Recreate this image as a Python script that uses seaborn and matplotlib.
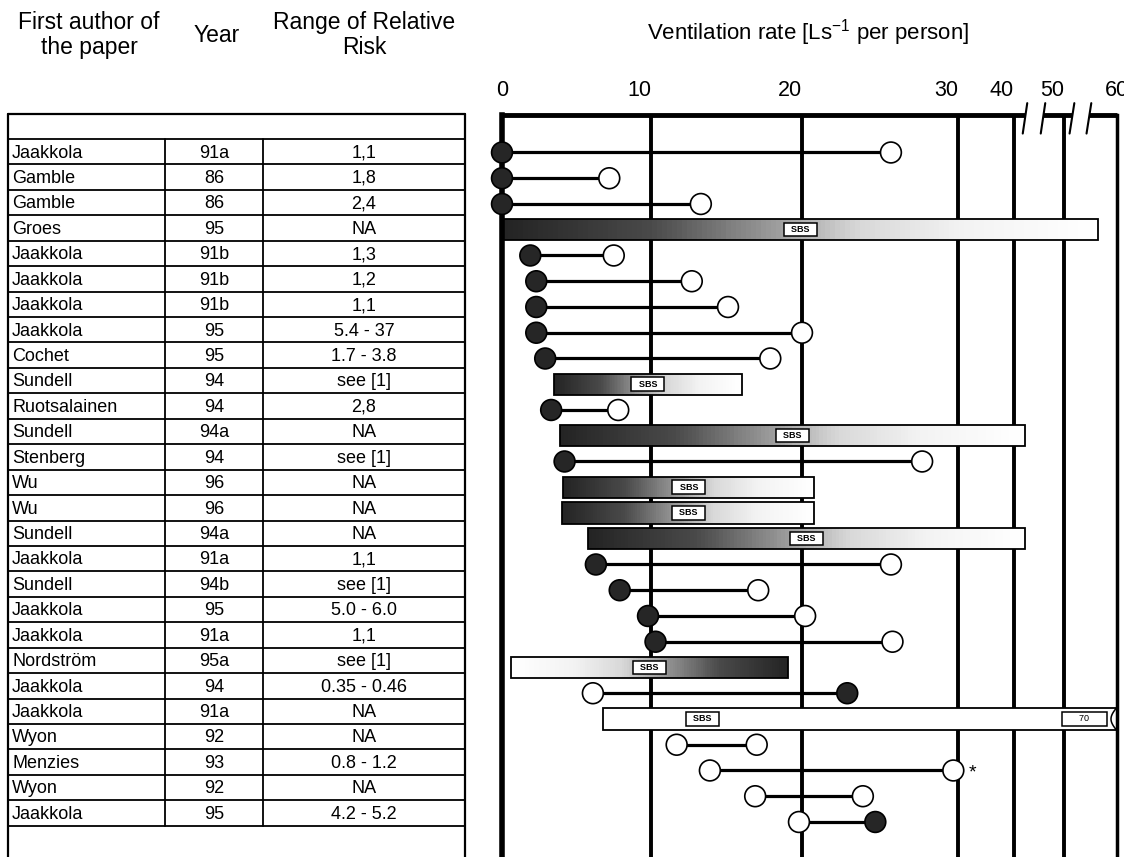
import matplotlib
matplotlib.use("Agg")
import matplotlib.pyplot as plt
from matplotlib.colors import LinearSegmentedColormap
from matplotlib.patches import Rectangle
import numpy as np
import pandas as pd
import seaborn as sns

# --table columns
authors = ["Jaakkola", "Gamble", "Gamble", "Groes", "Jaakkola", "Jaakkola", "Jaakkola",
           "Jaakkola", "Cochet", "Sundell", "Ruotsalainen", "Sundell", "Stenberg", "Wu",
           "Wu", "Sundell", "Jaakkola", "Sundell", "Jaakkola", "Jaakkola", "Nordström",
           "Jaakkola", "Jaakkola", "Wyon", "Menzies", "Wyon", "Jaakkola"]
years = ["91a", "86", "86", "95", "91b", "91b", "91b", "95", "95", "94", "94", "94a", "94",
         "96", "96", "94a", "91a", "94b", "95", "91a", "95a", "94", "91a", "92", "93", "92", "95"]
rel_risk = ["1,1", "1,8", "2,4", "NA", "1,3", "1,2", "1,1", "5.4 - 37", "1.7 - 3.8", "see [1]",
            "2,8", "NA", "see [1]", "NA", "NA", "NA", "1,1", "see [1]", "5.0 - 6.0", "1,1",
            "see [1]", "0.35 - 0.46", "NA", "NA", "0.8 - 1.2", "NA", "4.2 - 5.2"]

# --ventilation rates [L/s per person]
kind = ["pair", "pair", "pair", "bar", "pair", "pair", "pair", "pair", "pair", "bar", "pair",
        "bar", "pair", "bar", "bar", "bar", "pair", "pair", "pair", "pair", "bar", "pair",
        "bar", "pair", "pair", "pair", "pair"]
low = [0, 0, 0, 0.1, 1.9, 2.3, 2.3, 2.3, 2.9, 3.5, 3.3, 3.9, 4.2, 4.1, 4.0, 5.8, 6.3, 7.9,
       9.8, 10.3, 0.6, 6.1, 6.8, 11.7, 13.9, 16.9, 19.8]
high = [25.7, 7.2, 13.3, 56.4, 7.5, 12.7, 15.1, 20.0, 17.9, 16.0, 7.8, 42.1, 27.7, 20.8, 20.8,
        42.1, 25.7, 17.1, 20.2, 25.8, 19.1, 22.9, 70, 17.0, 29.7, 23.9, 24.7]
low_mark = ["filled"] * 21 + ["open"] * 6
high_mark = ["open"] * 21 + ["filled", "open", "open", "open", "open", "filled"]
shade = ["", "", "", "dark_left", "", "", "", "", "", "dark_left", "", "dark_left", "",
         "dark_left", "dark_left", "dark_left", "", "", "", "", "dark_right", "", "none",
         "", "", "", ""]
starred = [24]

tick_values = [0, 10, 20, 30, 40, 50, 60]
grid_values = [10, 20, 30, 40, 50]
axis_breaks = [(42.2, 45.8), (51.5, 54.7)]

# piecewise axis (original figure is not linear above 30)
SCALE_VALUES = [-10, 0, 10, 20, 30, 40, 50, 60, 80]
SCALE_POS = [-149, 0, 149, 300, 456, 512, 562, 615, 721]


def fwd(v):
    return np.interp(v, SCALE_VALUES, SCALE_POS)


def inv(u):
    return np.interp(u, SCALE_POS, SCALE_VALUES)


sns.set_theme(style="white")
plt.rcParams["font.family"] = ["Liberation Sans", "DejaVu Sans"]
plt.rcParams["mathtext.fontset"] = "custom"
plt.rcParams["mathtext.rm"] = "Liberation Sans"
plt.rcParams["text.color"] = "black"
plt.rcParams["xtick.color"] = "black"

W, H = 1124, 857
fig = plt.figure(figsize=(W / 100, H / 100), dpi=100)

n_rows = len(authors)
rows = np.arange(n_rows)

# ---------------- table
ax_t = fig.add_axes([8 / W, 0, 457 / W, 743 / H])
ax_t.set_xlim(0, 1)
ax_t.set_ylim(27.73, -1.484)
ax_t.axis("off")
c1, c2 = 157 / 457, 255 / 457
for k in range(n_rows + 1):
    ax_t.plot([0, 1], [k - 0.5, k - 0.5], color="black", lw=1.3)
for c in (c1, c2):
    ax_t.plot([c, c], [-0.5, n_rows - 0.5], color="black", lw=1.3)
for x in (0, 1):
    ax_t.plot([x, x], [0, 1], transform=ax_t.transAxes, color="black", lw=1.6, clip_on=False)
ax_t.plot([0, 1], [1, 1], transform=ax_t.transAxes, color="black", lw=1.6, clip_on=False)
for i in rows:
    ax_t.text(0.009, i + 0.05, authors[i], ha="left", va="center", fontsize=13)
    ax_t.text((c1 + c2) / 2, i + 0.05, years[i], ha="center", va="center", fontsize=13)
    ax_t.text((c2 + 1) / 2, i + 0.05, rel_risk[i], ha="center", va="center", fontsize=13)

fig.text(89 / W, 1 - 35 / H, "First author of\nthe paper", ha="center", va="center",
         fontsize=16.5, linespacing=1.15)
fig.text(217 / W, 1 - 35 / H, "Year", ha="center", va="center", fontsize=16.5)
fig.text(364 / W, 1 - 35 / H, "Range of Relative\nRisk", ha="center", va="center",
         fontsize=16.5, linespacing=1.15)
fig.text(808 / W, 1 - 33 / H, "Ventilation rate [Ls$^{-1}$ per person]", ha="center",
         va="center", fontsize=16)

# ---------------- chart
ax = fig.add_axes([502 / W, 0, 615 / W, 742 / H])
ax.set_xscale("function", functions=(fwd, inv))

for v in grid_values:
    ax.axvline(v, color="black", lw=2.8, zorder=1)

cmap = LinearSegmentedColormap.from_list(
    "shade", [(0, "#232323"), (0.25, "#4a4a4a"), (0.48, "#a5a5a5"), (0.6, "#d8d8d8"),
              (0.78, "#f3f3f3"), (1, "#ffffff")])
bar_h = 0.82
n_seg = 120
for i in rows:
    if kind[i] != "bar":
        continue
    a, b = low[i], high[i]
    y0 = i - bar_h / 2
    if shade[i] == "none":
        ax.add_patch(Rectangle((a, y0), b - a, bar_h, fc="white", ec="black", lw=1.3, zorder=2))
    else:
        edges = inv(np.linspace(fwd(a), fwd(b), n_seg + 1))
        for j in range(n_seg):
            t = (j + 0.5) / n_seg
            if shade[i] == "dark_right":
                t = 1 - t
            ax.add_patch(Rectangle((edges[j], y0), edges[j + 1] - edges[j], bar_h,
                                   fc=cmap(t), lw=0, antialiased=False, zorder=2))
        ax.add_patch(Rectangle((a, y0), b - a, bar_h, fc="none", ec="black", lw=1.3, zorder=2.2))
    if b > tick_values[-1]:
        # truncated bar: label near its start, value box and break mark at the border
        x_lab = inv((fwd(a) + fwd(20)) / 2)
        ax.annotate(f"      {b:g}      ", xy=(tick_values[-1], i), xytext=(-9, 0),
                    textcoords="offset points", ha="right", va="center", fontsize=6.5,
                    bbox=dict(boxstyle="square,pad=0.3", fc="white", ec="black", lw=1.1),
                    zorder=3)
        t = np.linspace(0, 1, 40)
        ax.plot(inv(fwd(tick_values[-1]) - 1 - 5 * np.sin(np.pi * t)), y0 + bar_h * t,
                color="black", lw=1.1, zorder=3)
    else:
        x_lab = inv((fwd(a) + fwd(b)) / 2)
    ax.text(x_lab, i, "  SBS  ", ha="center", va="center", fontsize=6.5, fontweight="bold",
            bbox=dict(boxstyle="square,pad=0.25", fc="white", ec="black", lw=1.1), zorder=3)

pair_rows = [i for i in rows if kind[i] == "pair"]
ax.hlines(pair_rows, [low[i] for i in pair_rows], [high[i] for i in pair_rows],
          color="black", lw=2.3, zorder=3)

points = pd.DataFrame({
    "rate": [low[i] for i in pair_rows] + [high[i] for i in pair_rows],
    "row": pair_rows + pair_rows,
    "mark": [low_mark[i] for i in pair_rows] + [high_mark[i] for i in pair_rows],
})
sns.scatterplot(data=points, x="rate", y="row", hue="mark",
                palette={"filled": "#262626", "open": "white"}, edgecolor="black",
                linewidth=1.2, s=225, legend=False, zorder=4, clip_on=False, ax=ax)

for i in starred:
    ax.annotate("*", xy=(high[i], i), xytext=(11, -2), textcoords="offset points",
                ha="left", va="center", fontsize=14)

ax.set_xlim(0, 60)
ax.set_ylim(27.36, -1.456)
ax.set_xlabel("")
ax.set_ylabel("")
ax.set_yticks([])
ax.set_xticks(tick_values)
ax.set_xticklabels([str(v) for v in tick_values])
ax.xaxis.set_ticks_position("top")
ax.tick_params(axis="x", top=True, bottom=False, labeltop=True, labelbottom=False,
               length=0, pad=10, labelsize=15.5)
for k, lab in enumerate(ax.get_xticklabels()):
    if 0 < k < len(tick_values) - 1:
        lab.set_ha("right")

for side in ("top", "bottom"):
    ax.spines[side].set_visible(False)
ax.spines["left"].set_linewidth(4)
ax.spines["right"].set_linewidth(2.5)
for side in ("left", "right"):
    ax.spines[side].set_color("black")

# top border with axis breaks
flat = [x for pair in axis_breaks for x in pair]
seg_x = [0] + flat + [tick_values[-1]]
for k in range(0, len(seg_x), 2):
    ax.plot(seg_x[k:k + 2], [1, 1], transform=ax.get_xaxis_transform(), color="black",
            lw=3.5, clip_on=False, solid_capstyle="butt", zorder=5)
for x in flat:
    ax.plot([x - 0.45, x + 0.45], [0.975, 1.016], transform=ax.get_xaxis_transform(),
            color="black", lw=1.5, clip_on=False, zorder=5)

fig.savefig("out.png", dpi=100)
